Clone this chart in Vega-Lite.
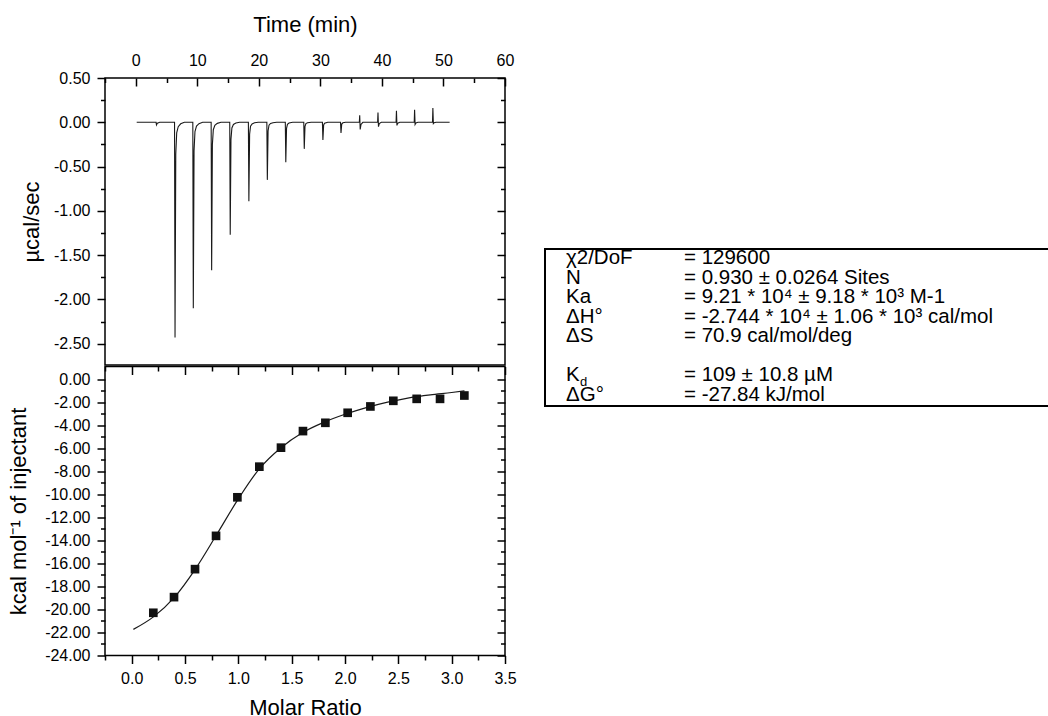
{
  "$schema": "https://vega.github.io/schema/vega-lite/v6.json",
  "padding": {"left": 6, "top": 12, "right": 0, "bottom": 0},
  "background": "white",
  "config": {
    "font": "Liberation Sans",
    "view": {"stroke": "black", "strokeWidth": 1.5},
    "axis": {"domain": false, "grid": false, "tickColor": "black", "tickWidth": 1.5, "labelColor": "black", "labelFontSize": 16, "labelFont": "Liberation Sans", "titleColor": "black", "titleFontSize": 22, "titleFontWeight": "normal", "titleFont": "Liberation Sans", "labelFlush": false, "labelOverlap": false},
    "locale": {"number": {"decimal": ".", "thousands": ",", "grouping": [3], "currency": ["$", ""], "minus": "-"}}
  },
  "datasets": {
    "trace": [
      {"t":0.15,"p":0},{"t":3.3,"p":0},{"t":3.36,"p":-0.03},{"t":3.5,"p":-0.01},{"t":3.9,"p":0},
      {"t":6.3,"p":0},{"t":6.38,"p":-2.43},{"t":6.5,"p":-0.36},{"t":6.65,"p":-0.12},{"t":6.9,"p":-0.05},{"t":7.3,"p":-0.017},{"t":7.9,"p":0},
      {"t":9.27,"p":0},{"t":9.35,"p":-2.1},{"t":9.47,"p":-0.32},{"t":9.62,"p":-0.105},{"t":9.87,"p":-0.042},{"t":10.27,"p":-0.015},{"t":10.87,"p":0},
      {"t":12.25,"p":0},{"t":12.33,"p":-1.67},{"t":12.45,"p":-0.25},{"t":12.6,"p":-0.084},{"t":12.85,"p":-0.033},{"t":13.25,"p":-0.012},{"t":13.85,"p":0},
      {"t":15.27,"p":0},{"t":15.35,"p":-1.27},{"t":15.47,"p":-0.19},{"t":15.62,"p":-0.064},{"t":15.87,"p":-0.025},{"t":16.27,"p":-0.009},{"t":16.87,"p":0},
      {"t":18.3,"p":0},{"t":18.38,"p":-0.89},{"t":18.5,"p":-0.134},{"t":18.65,"p":-0.045},{"t":18.9,"p":-0.018},{"t":19.3,"p":-0.006},{"t":19.9,"p":0},
      {"t":21.3,"p":0},{"t":21.38,"p":-0.65},{"t":21.5,"p":-0.098},{"t":21.65,"p":-0.033},{"t":21.9,"p":-0.013},{"t":22.3,"p":-0.005},{"t":22.9,"p":0},
      {"t":24.3,"p":0},{"t":24.38,"p":-0.45},{"t":24.5,"p":-0.068},{"t":24.65,"p":-0.023},{"t":24.9,"p":-0.009},{"t":25.5,"p":0},
      {"t":27.3,"p":0},{"t":27.38,"p":-0.3},{"t":27.5,"p":-0.045},{"t":27.65,"p":-0.015},{"t":27.9,"p":-0.006},{"t":28.5,"p":0},
      {"t":30.33,"p":0},{"t":30.41,"p":-0.2},{"t":30.53,"p":-0.03},{"t":30.68,"p":-0.01},{"t":31.2,"p":0},
      {"t":33.27,"p":0},{"t":33.35,"p":-0.12},{"t":33.47,"p":-0.02},{"t":33.65,"p":-0.006},{"t":34.1,"p":0},
      {"t":36.33,"p":0},{"t":36.39,"p":0.08},{"t":36.47,"p":-0.08},{"t":36.6,"p":-0.024},{"t":36.9,"p":0},
      {"t":39.3,"p":0},{"t":39.36,"p":0.11},{"t":39.44,"p":-0.05},{"t":39.57,"p":-0.015},{"t":39.9,"p":0},
      {"t":42.3,"p":0},{"t":42.36,"p":0.13},{"t":42.44,"p":-0.035},{"t":42.57,"p":-0.01},{"t":42.9,"p":0},
      {"t":45.25,"p":0},{"t":45.31,"p":0.14},{"t":45.39,"p":-0.025},{"t":45.52,"p":-0.008},{"t":45.85,"p":0},
      {"t":48.22,"p":0},{"t":48.28,"p":0.16},{"t":48.36,"p":-0.015},{"t":48.49,"p":-0.005},{"t":48.8,"p":0},
      {"t":51.0,"p":0}
    ],
    "itc": [
      {"r":0.203,"q":-20.29},{"r":0.397,"q":-18.93},{"r":0.594,"q":-16.5},{"r":0.791,"q":-13.61},{"r":0.991,"q":-10.26},
      {"r":1.197,"q":-7.6},{"r":1.4,"q":-5.95},{"r":1.606,"q":-4.51},{"r":1.816,"q":-3.79},{"r":2.025,"q":-2.92},
      {"r":2.238,"q":-2.37},{"r":2.453,"q":-1.88},{"r":2.672,"q":-1.71},{"r":2.891,"q":-1.71},{"r":3.119,"q":-1.42}
    ],
    "fit": [
      {"r":0.016,"q":-21.73},{"r":0.21,"q":-20.6},{"r":0.4,"q":-18.95},{"r":0.6,"q":-16.45},{"r":0.8,"q":-13.45},
      {"r":1.0,"q":-10.4},{"r":1.2,"q":-7.75},{"r":1.4,"q":-5.95},{"r":1.6,"q":-4.65},{"r":1.8,"q":-3.75},
      {"r":2.0,"q":-3.05},{"r":2.2,"q":-2.47},{"r":2.4,"q":-2.0},{"r":2.6,"q":-1.62},{"r":2.8,"q":-1.36},
      {"r":3.0,"q":-1.16},{"r":3.12,"q":-1.02}
    ],
    "box": [
      {"line":1,"col":0,"txt":"χ2/DoF"},{"line":1,"col":1,"txt":"= 129600"},
      {"line":2,"col":0,"txt":"N"},{"line":2,"col":1,"txt":"= 0.930 ± 0.0264 Sites"},
      {"line":3,"col":0,"txt":"Ka"},{"line":3,"col":1,"txt":"= 9.21 * 10⁴ ± 9.18 * 10³ M-1"},
      {"line":4,"col":0,"txt":"ΔH°"},{"line":4,"col":1,"txt":"= -2.744 * 10⁴ ± 1.06 * 10³ cal/mol"},
      {"line":5,"col":0,"txt":"ΔS"},{"line":5,"col":1,"txt":"= 70.9 cal/mol/deg"},
      {"line":7,"col":0,"txt":"K"},{"line":7,"col":1,"txt":"= 109 ± 10.8 µM"},
      {"line":8,"col":0,"txt":"ΔG°"},{"line":8,"col":1,"txt":"= -27.84 kJ/mol"}
    ],
    "sub": [{"line":7,"col":0,"txt":"d"}]
  },
  "spacing": 27,
  "hconcat": [
    {
      "spacing": -1.5,
      "vconcat": [
        {
          "width": 400, "height": 287,
          "data": {"name": "trace"},
          "layer": [
            {
              "mark": {"type": "line", "color": "#1a1a1a", "strokeWidth": 1.1},
              "encoding": {
                "x": {"field": "t", "type": "quantitative", "scale": {"domain": [-5, 60], "nice": false, "zero": false},
                  "axis": {"orient": "top", "title": "Time (min)", "values": [0,10,20,30,40,50,60],
                    "ticks": false, "labelPadding": 9.5, "titlePadding": 16}},
                "y": {"field": "p", "type": "quantitative", "scale": {"domain": [-2.74, 0.5], "nice": false, "zero": false},
                  "axis": {"orient": "left", "title": "µcal/sec", "values": [-2.5,-2.25,-2,-1.75,-1.5,-1.25,-1,-0.75,-0.5,-0.25,0,0.25,0.5],
                    "format": ".2f",
                    "labelExpr": "round(datum.value*100) % 50 === 0 ? datum.label : ''",
                    "tickSize": {"condition": {"test": "round(datum.value*100) % 50 !== 0", "value": 4.5}, "value": 8},
                    "labelPadding": 7, "titlePadding": 10}}
              }
            },
            {
              "mark": {"type": "line", "opacity": 0},
              "encoding": {
                "x": {"field": "t", "type": "quantitative",
                  "axis": {"orient": "bottom", "offset": -287, "title": null, "labels": false, "values": [-5,0,5,10,15,20,25,30,35,40,45,50,55,60],
                    "tickSize": {"condition": {"test": "datum.value % 10 !== 0", "value": 4.5}, "value": 8}}},
                "y": {"field": "p", "type": "quantitative",
                  "axis": {"orient": "right", "title": null, "labels": false, "values": [-2.5,-2.25,-2,-1.75,-1.5,-1.25,-1,-0.75,-0.5,-0.25,0,0.25,0.5],
                    "tickSize": {"condition": {"test": "round(datum.value*100) % 50 !== 0", "value": -4.5}, "value": -8}}}
              }
            }
          ],
          "resolve": {"axis": {"x": "independent", "y": "independent"}}
        },
        {
          "width": 400, "height": 289,
          "layer": [
            {
              "data": {"name": "fit"},
              "mark": {"type": "line", "color": "#1a1a1a", "strokeWidth": 1.2, "interpolate": "monotone"},
              "encoding": {
                "x": {"field": "r", "type": "quantitative", "scale": {"domain": [-0.25, 3.5], "nice": false, "zero": false},
                  "axis": {"orient": "bottom", "title": "Molar Ratio", "values": [-0.25,0,0.25,0.5,0.75,1,1.25,1.5,1.75,2,2.25,2.5,2.75,3,3.25,3.5],
                    "format": ".1f",
                    "labelExpr": "round(datum.value*100) % 50 === 0 ? datum.label : ''",
                    "tickSize": {"condition": {"test": "round(datum.value*100) % 50 !== 0", "value": 4.5}, "value": 8},
                    "labelPadding": 7, "titlePadding": 11}},
                "y": {"field": "q", "type": "quantitative", "scale": {"domain": [-24, 1.1], "nice": false, "zero": false},
                  "axis": {"orient": "left", "title": "kcal mol⁻¹ of injectant", "values": [-24,-23,-22,-21,-20,-19,-18,-17,-16,-15,-14,-13,-12,-11,-10,-9,-8,-7,-6,-5,-4,-3,-2,-1,0],
                    "format": ".2f",
                    "labelExpr": "datum.value % 2 === 0 ? datum.label : ''",
                    "tickSize": {"condition": {"test": "datum.value % 2 !== 0", "value": 4.5}, "value": 8},
                    "labelPadding": 7, "titlePadding": 14}}
              }
            },
            {
              "data": {"name": "itc"},
              "mark": {"type": "point", "shape": "square", "filled": true, "size": 75, "color": "#111111", "opacity": 1},
              "encoding": {
                "x": {"field": "r", "type": "quantitative", "axis": null},
                "y": {"field": "q", "type": "quantitative", "axis": null}
              }
            },
            {
              "data": {"name": "fit"},
              "mark": {"type": "line", "opacity": 0},
              "encoding": {
                "x": {"field": "r", "type": "quantitative",
                  "axis": {"orient": "bottom", "offset": -289, "title": null, "labels": false, "values": [-0.25,0,0.25,0.5,0.75,1,1.25,1.5,1.75,2,2.25,2.5,2.75,3,3.25,3.5],
                    "tickSize": {"condition": {"test": "round(datum.value*100) % 50 !== 0", "value": 4.5}, "value": 8}}},
                "y": {"field": "q", "type": "quantitative",
                  "axis": {"orient": "right", "title": null, "labels": false, "values": [-24,-23,-22,-21,-20,-19,-18,-17,-16,-15,-14,-13,-12,-11,-10,-9,-8,-7,-6,-5,-4,-3,-2,-1,0],
                    "tickSize": {"condition": {"test": "datum.value % 2 !== 0", "value": -4.5}, "value": -8}}}
              }
            }
          ],
          "resolve": {"axis": {"x": "independent", "y": "independent"}}
        }
      ]
    },
    {
      "spacing": 0,
      "vconcat": [
        {
          "width": 10, "height": 169,
          "data": {"values": []},
          "mark": "point",
          "view": {"stroke": null}
        },
        {
          "width": 506, "height": 157,
          "view": {"stroke": "black", "strokeWidth": 2},
          "layer": [
            {
              "data": {"name": "box"},
              "mark": {"type": "text", "align": "left", "baseline": "middle", "fontSize": 20.5, "color": "black"},
              "encoding": {
                "x": {"field": "col", "type": "quantitative", "scale": {"domain": [0, 1], "range": [21, 139]}, "axis": null},
                "y": {"field": "line", "type": "quantitative", "scale": {"domain": [1, 8], "range": [9, 145.5]}, "axis": null},
                "text": {"field": "txt"}
              }
            },
            {
              "data": {"name": "sub"},
              "mark": {"type": "text", "align": "left", "baseline": "middle", "fontSize": 13, "dx": 14, "dy": 7, "color": "black"},
              "encoding": {
                "x": {"field": "col", "type": "quantitative", "axis": null},
                "y": {"field": "line", "type": "quantitative", "axis": null},
                "text": {"field": "txt"}
              }
            }
          ]
        }
      ]
    }
  ]
}
